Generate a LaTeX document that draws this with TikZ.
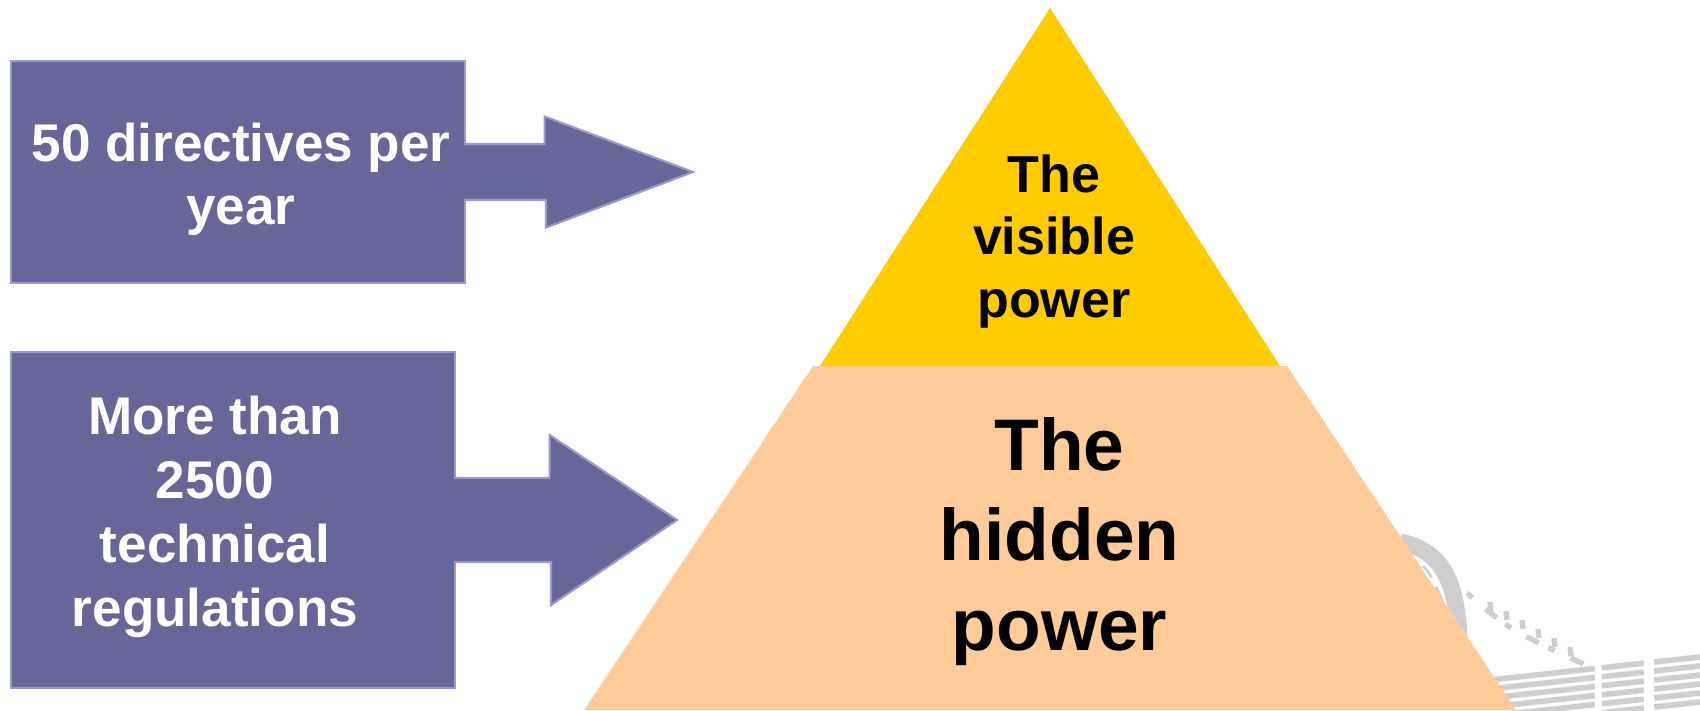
\documentclass[tikz,border=0pt]{standalone}
\usepackage{fontspec}
\setmainfont{Liberation Sans}
\definecolor{boxfill}{RGB}{102,102,153}
\definecolor{boxline}{RGB}{153,153,204}
\definecolor{topgold}{RGB}{255,204,0}
\definecolor{basepeach}{RGB}{255,204,153}
\definecolor{fadegray}{RGB}{206,206,206}
\tikzset{
  factbox/.style={fill=boxfill, draw=boxline, line width=0.6pt, inner sep=0pt, outer sep=0pt},
  facttext/.style={text=white, font=\bfseries\fontsize{15.1}{18}\selectfont, align=center, inner sep=0pt},
  blockarrow/.style={fill=boxfill, draw=boxline, line width=0.6pt},
  powertext/.style={text=black, align=center, inner sep=0pt},
  faded/.style={draw=fadegray},
}
\begin{document}
\begin{tikzpicture}
\useasboundingbox (0,0) rectangle (17,-7.1);

% faded picture behind the pyramid
\draw[faded, line width=0.17cm] (14.00,-5.42) .. controls (14.40,-5.50) and (14.56,-5.78) .. (14.59,-6.36);
\draw[faded, line width=0.8pt, dash pattern=on 4pt off 3pt] (14.03,-5.52) .. controls (14.28,-5.68) .. (14.42,-6.0);
\draw[faded, line width=1.5pt, dash pattern=on 2pt off 5pt on 4pt off 3pt] (14.67,-5.93) .. controls (15.1,-6.3) .. (15.9,-6.67);
\foreach \i in {0,...,5}
  \draw[faded, line width=1.5pt] (14.9+\i*0.16,-6.02-\i*0.09) -- ++(0.01,-0.09);
\foreach \i in {0,...,5}
  \draw[faded, line width=1.6pt, dash pattern=on 30pt off 2pt on 12pt off 3pt on 20pt off 2pt] (14.9,-6.80-\i*0.09) -- (17,-6.57-\i*0.09);

% pyramid
\fill[basepeach] (8.13,-3.66) -- (12.87,-3.66) -- (15.16,-7.1) -- (5.84,-7.1) -- cycle;
\fill[topgold] (10.50,-0.08) -- (12.80,-3.66) -- (8.20,-3.66) -- cycle;
\node[powertext, font=\bfseries\fontsize{14.8}{17.9}\selectfont] (visible) at (10.54,-2.415) {The\\visible\\power};
\node[powertext, font=\bfseries\fontsize{20.8}{25.6}\selectfont] (hidden) at (10.595,-5.42) {The\\hidden\\power};

% boxes
\node[factbox, minimum width=4.54cm, minimum height=2.22cm] (directives) at (2.38,-1.72) {};
\node[facttext] (directivestext) at (2.41,-1.795) {50 directives per\\year};
\node[factbox, minimum width=4.44cm, minimum height=3.36cm] (regulations) at (2.33,-5.20) {};
\node[facttext, font=\bfseries\fontsize{15.1}{18.2}\selectfont] (regulationstext) at (2.15,-5.165) {More than\\2500\\technical\\regulations};

% arrows
\coordinate (tipA) at ([xshift=2.28cm]directives.east);
\draw[blockarrow] ([xshift=-0.4pt,yshift=2.8mm]directives.east) -- ++(8.1mm,0) -- ++(0,2.75mm) -- (tipA)
  -- ([xshift=8.1mm,yshift=-5.55mm]directives.east) -- ++(0,2.75mm) -- ([xshift=-0.4pt,yshift=-2.8mm]directives.east);
\coordinate (tipB) at ([xshift=2.22cm]regulations.east);
\draw[blockarrow] ([xshift=-0.4pt,yshift=4.2mm]regulations.east) -- ++(9.6mm,0) -- ++(0,4.3mm) -- (tipB)
  -- ([xshift=9.6mm,yshift=-8.5mm]regulations.east) -- ++(0,4.3mm) -- ([xshift=-0.4pt,yshift=-4.2mm]regulations.east);
\end{tikzpicture}
\end{document}
